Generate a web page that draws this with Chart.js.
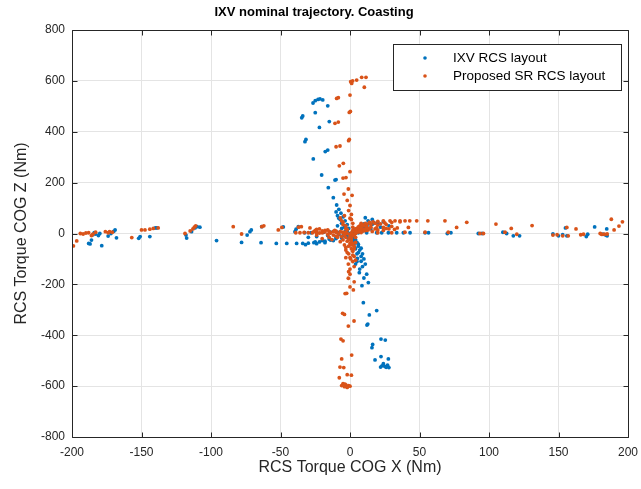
<!DOCTYPE html>
<html><head><meta charset="utf-8">
<script src="https://cdn.jsdelivr.net/npm/chart.js@4/dist/chart.umd.min.js"></script>
<style>html,body{margin:0;padding:0;background:#fff}</style>
</head><body>
<canvas id="c" width="641" height="489"></canvas>
<script>
const chartTitle = 'IXV nominal trajectory. Coasting';
const xAxisTitle = 'RCS Torque COG X (Nm)';
const yAxisTitle = 'RCS Torque COG Z (Nm)';
const seriesNames = ['IXV RCS layout', 'Proposed SR RCS layout'];
const xTicks = [-200, -150, -100, -50, 0, 50, 100, 150, 200];
const yTicks = [-800, -600, -400, -200, 0, 200, 400, 600, 800];

// IXV RCS layout: [torque X, torque Z] in Nm
const ixvTorque = [
  [-21.6,529],[-25,522],[-26.6,513],[-19.6,525],[-23,527],[-16,502],[-25,475],[-34,462],[-34.7,455],[-14.9,440],
  [-22,417],[-31.7,370],[-32.4,361],[-16,328],[-17.8,322],[-26.4,293],[-20.4,230],[-10.8,210],[-10,212],[-15.6,180],
  [-12,141],[-9.6,112],[-8,95],[-6.5,80],[-5,65],[-3.5,50],[-2,35],[-1,20],[-4,30],[-8,60],
  [-188,-39],[-186,-26],[-187,-41],[-178.6,-48],[-185,-5],[-183,-2],[-181,-8],[-184,3],[-180,0],[-174,-10],
  [-172,0],[-170,8],[-169,14],[-168,-17],[-151,-12],[-152,-19],[-144,-12],[-140,22],[-139,22],[-117.5,-18],
  [-118,-6],[-114,7],[-111.5,22],[-110,27],[-108,25],[-96,-28],[-78,-35],[-74,-6],[-72,7],[-71,14],
  [-63.5,27],[-64,-36],[-53,-39],[-48,26],[-45.5,-39],[-39.6,7],[-38.8,17],[-37.2,27],[-38.4,-39],[-34,-39],
  [-30,-38],[-26,-36],[-22,-33],[-18,-30],[-14,-26],[-10,-20],[-6,-12],[-32.6,3],[-28,3],[-24,4],
  [-19,5],[-14,5],[-9,4],[-4,-4],
  [6,3],[12,3],[19.2,3],[22.8,3],[27.6,3],[33.6,3],[38.4,3],[43.2,3],[54,3],[56.5,3],
  [70,0],[72.6,3],[92.3,0],[95,0],[110,5],[112.7,0],[117.5,-9],[122,-9],[146,-2],[150,-9],
  [156,-9],[155,22],[170,-12],[171,-3],[176,26],[182,-3],[184,-6],[185,-9],[184.7,18],[153,-5],
  [4,8],[7,16],[10,25],[12,32],[14,40],[17,44],
  [2,-20],[3,-40],[4,-60],[5,-80],[5.3,-98],[8,-109],[6.7,-154],[13.2,-193],[8.6,-205],[9.6,-272],
  [19.2,-303],[13.9,-320],[12.2,-360],[12.8,-356],[22.3,-415],[25.4,-419],[16.3,-436],[15.8,-449],[18,-497],[22.3,-484],
  [27.6,-493],[23,-520],[25,-522],[27,-518],[24,-512],[26,-526],[22,-525],[28,-527],
  [0,0],[-2,-5],[2,5],[-3,10],[1,-10],
  [3,-10],[4,-25],[5,-35],[6,-50],[7,-65],[6,-75],[8,-90],[4,-120],[9,-130],[7,-140],
  [-5,-8],[-10,-15],[-15,-22],[-20,-28],[-25,-33],[-8,-4],[-16,-8],[-24,-12],[-30,-15],
  [-2,10],[-4,25],[-6,40],[-7,55],[-9,70],[-10,85],
  [8,20],[12,28],[16,36],[20,42],[24,46],[9,10],[15,18],[22,25],[28,30],
  [-6,-18],[-12,-28],[-18,-36],[-24,-40],[-32,-44],[-2,-15],[2,-30],[6,-42],[8,-58],[9,-80],
  [10,-100],[5,-110],[11,-120],[12,-160],[10,-175],[3,15],[10,38],[13,50],[16,55],[11,62],
  [-3,5],[-6,20],[-9,30]
];

// Proposed SR RCS layout: [torque X, torque Z] in Nm
const srTorque = [
  [0.5,597],[1.2,590],[1.9,600],[4.8,603],[8.4,614],[11.5,614],[10.3,575],[0,544],[-9.6,531],[-8.4,534],
  [-0.5,476],[0.3,480],[-10.8,433],[-8.4,438],[-0.5,370],[-1,365],[-10,341],[-7.2,344],[-4.8,276],[-7.7,266],
  [0,243],[-2.9,220],[-5,218],[-1.2,175],[-4.3,155],[1.5,150],[-2,130],[0,110],[-1,90],[1,75],
  [0,60],[-7,61],[-5,45],[-3,30],
  [1,-20],[0,-40],[1,-60],[-1,-80],[0.5,-100],[-1.2,-120],[0,-140],[-1.2,-176],[2.4,-222],[-2.4,-235],
  [-3.5,-236],[-5.3,-314],[-4,-318],[2.9,-344],[-1.2,-364],[-6.5,-415],[-5,-422],[1.2,-478],[-6,-493],[-7.2,-525],
  [-4.5,-527],[-7.7,-567],[-2,-555],[1,-557],[-5,-590],[-3,-595],[-1,-598],[-4,-602],[-2,-605],[0,-600],
  [-6,-598],[-3.6,-592],[0,-160],[3,-130],[2,-70],[3,-90],[-1,-50],[1,-30],
  [10,30],[16.5,46],[20,48],[24,50],[28.8,50],[32.4,50],[36,50],[39.6,50],[43,50],[48,50],
  [56,50],[68.3,50],[84,44],[76.7,24],[42,24],[105,37],[116,20],[131,31],[156,24],[162.6,18],
  [188,56],[196,46],[193.5,29],[190,14],[185,-2],[183,-3],[181,-3],[180,0],[146,-6],[149,-5],
  [153,-9],[157,-9],[166,-5],[168,-3],[120,-3],[111.5,5],[93.5,0],[96,0],[70.7,5],[54,5],
  [39.5,5],[30,3],[20,3],
  [-199,-49],[-196.6,-29],[-194,0],[-192,-2],[-190,2],[-188,3],[-185,-3],[-183,5],[-186,-8],[-176,7],
  [-174,3],[-173,7],[-171,5],[-157,-16],[-150,14],[-147.5,14],[-144,17],[-141.5,20],[-138,22],[-118.7,0],
  [-115,10],[-113,18],[-112,25],[-111,30],[-84,27],[-78,-2],[-63.5,27],[-62,30],[-51.6,14],[-49,24],
  [-39,3],[-36,3],[-33,4],[-30,3],[-27,3],[-24,4],[-20,3],[-37,25],[-35,27],[-28.8,22],
  [-22,18],[-16,14],[-10,9],[-5,5],
  [3,10],[5,20],[7,30],[8,40],[-3,-15],[-5,-25],[-7,-32],[5,5],[10,10],[13,14],
  [-10,-10],[-15,-15],[-20,-20],[2,-8],[0,-5],[3,-3],[-2,15],[4,-15],[6,20],[12,25],
  [15,35],[8,15],[-12,8],[-18,12],[-24,16],
  [5,8],[10,16],[15,25],[20,33],[25,42],[6,6],[12,12],[18,18],[24,24],[30,28],
  [8,4],[16,8],[24,12],[32,16],[4,12],[8,24],[12,36],[14,44],[18,40],[22,38],
  [-5,3],[-10,5],[-15,8],[-20,10],[-25,12],[-8,-2],[-16,-4],[-24,-6],[-12,-6],[-6,-12],
  [-2,-30],[2,-40],[-3,-55],[3,-60],[-2,-75],[2,-85],[-4,-45],[4,-35],[-3,-95],[2,-110],
  [-3,20],[-5,35],[2,25],[-6,50],[-4,70],[2,40],[1,55],[-2,0],[1,2],[4,0],
  [2,12],[4,18],[6,26],[9,34],[11,40],[7,10],[11,14],[14,20],[19,22],[26,20],
  [20,14],[28,18],[34,22],[36,46],[30,44],[26,36],[-3,5],[-7,8],[-11,12],[-14,2],
  [-18,6],[-22,2],[-26,7],[-4,-5],[-9,-15],[-13,-24],[0,-15],[-1,-25],[1,-45],[3,-50],
  [-3,-65],[0,-95],[4,-105],[-1,-150],[3,-190],[0,-210]
];

const BLUE = '#0072BD';
const ORANGE = '#D95319';
const AXIS = '#262626';

function toXY(list) { return list.map(p => ({x: p[0], y: p[1]})); }

const boxPlugin = {
  id: 'matlabBox',
  afterDraw(chart) {
    const {ctx, chartArea: a, scales} = chart;
    ctx.save();
    ctx.strokeStyle = AXIS;
    ctx.lineWidth = 1;
    ctx.beginPath();
    const L = Math.round(a.left) + 0.5, R = Math.round(a.right) + 0.5;
    const T = Math.round(a.top) + 0.5, B = Math.round(a.bottom) + 0.5;
    ctx.rect(L, T, R - L, B - T);
    const tl = 5;
    xTicks.forEach(v => {
      const px = Math.round(scales.x.getPixelForValue(v)) + 0.5;
      ctx.moveTo(px, B); ctx.lineTo(px, B - tl);
      ctx.moveTo(px, T); ctx.lineTo(px, T + tl);
    });
    yTicks.forEach(v => {
      const py = Math.round(scales.y.getPixelForValue(v)) + 0.5;
      ctx.moveTo(L, py); ctx.lineTo(L + tl, py);
      ctx.moveTo(R, py); ctx.lineTo(R - tl, py);
    });
    ctx.stroke();

    // legend box (inside, top-right)
    const bx = 393.5, by = 44.5, bw = 228, bh = 46;
    ctx.fillStyle = '#fff';
    ctx.fillRect(bx, by, bw, bh);
    ctx.strokeRect(bx, by, bw, bh);
    ctx.font = '13.5px "Liberation Sans", Arial, sans-serif';
    ctx.textBaseline = 'middle';
    ctx.textAlign = 'left';
    chart.data.datasets.forEach((ds, i) => {
      const yy = 58 + i * 18;
      ctx.fillStyle = ds.backgroundColor;
      ctx.beginPath();
      ctx.arc(425, yy, 1.8, 0, Math.PI * 2);
      ctx.fill();
      ctx.fillStyle = '#000';
      ctx.fillText(ds.label, 453, yy);
    });
    ctx.restore();
  }
};

new Chart(document.getElementById('c'), {
  type: 'scatter',
  data: {
    datasets: [
      {label: seriesNames[0], data: toXY(ixvTorque), backgroundColor: BLUE, borderColor: BLUE,
       pointRadius: 1.9, pointBorderWidth: 0, pointHoverRadius: 1.9, order: 1},
      {label: seriesNames[1], data: toXY(srTorque), backgroundColor: ORANGE, borderColor: ORANGE,
       pointRadius: 1.9, pointBorderWidth: 0, pointHoverRadius: 1.9, order: 0}
    ]
  },
  options: {
    responsive: false,
    animation: false,
    layout: {padding: {top: 0, right: 13, bottom: 0, left: 0}},
    plugins: {
      legend: {display: false},
      tooltip: {enabled: false},
      title: {display: true, text: chartTitle, color: '#000',
              font: {family: '"Liberation Sans", Arial, sans-serif', size: 13, weight: 'bold'},
              padding: {top: 5, bottom: 9.4}}
    },
    scales: {
      x: {
        type: 'linear', min: -200, max: 200,
        afterBuildTicks: s => { s.ticks = xTicks.map(v => ({value: v})); },
        afterFit: s => { s.height = 52; s.paddingLeft = 0; s.paddingRight = 0; },
        grid: {color: '#e4e4e4', drawTicks: false},
        border: {display: false},
        ticks: {color: AXIS, padding: 8, maxRotation: 0,
                font: {family: '"Liberation Sans", Arial, sans-serif', size: 12}},
        title: {display: true, text: xAxisTitle, color: AXIS,
                font: {family: '"Liberation Sans", Arial, sans-serif', size: 16},
                padding: {top: 0, bottom: 12}}
      },
      y: {
        type: 'linear', min: -800, max: 800,
        afterBuildTicks: s => { s.ticks = yTicks.map(v => ({value: v})); },
        afterFit: s => { s.width = 72; s.paddingTop = 0; s.paddingBottom = 0; },
        grid: {color: '#e4e4e4', drawTicks: false},
        border: {display: false},
        ticks: {color: AXIS, padding: 7,
                font: {family: '"Liberation Sans", Arial, sans-serif', size: 12}},
        title: {display: true, text: yAxisTitle, color: AXIS,
                font: {family: '"Liberation Sans", Arial, sans-serif', size: 16},
                padding: {top: 12, bottom: 0}}
      }
    }
  },
  plugins: [boxPlugin]
});
</script>
</body></html>
